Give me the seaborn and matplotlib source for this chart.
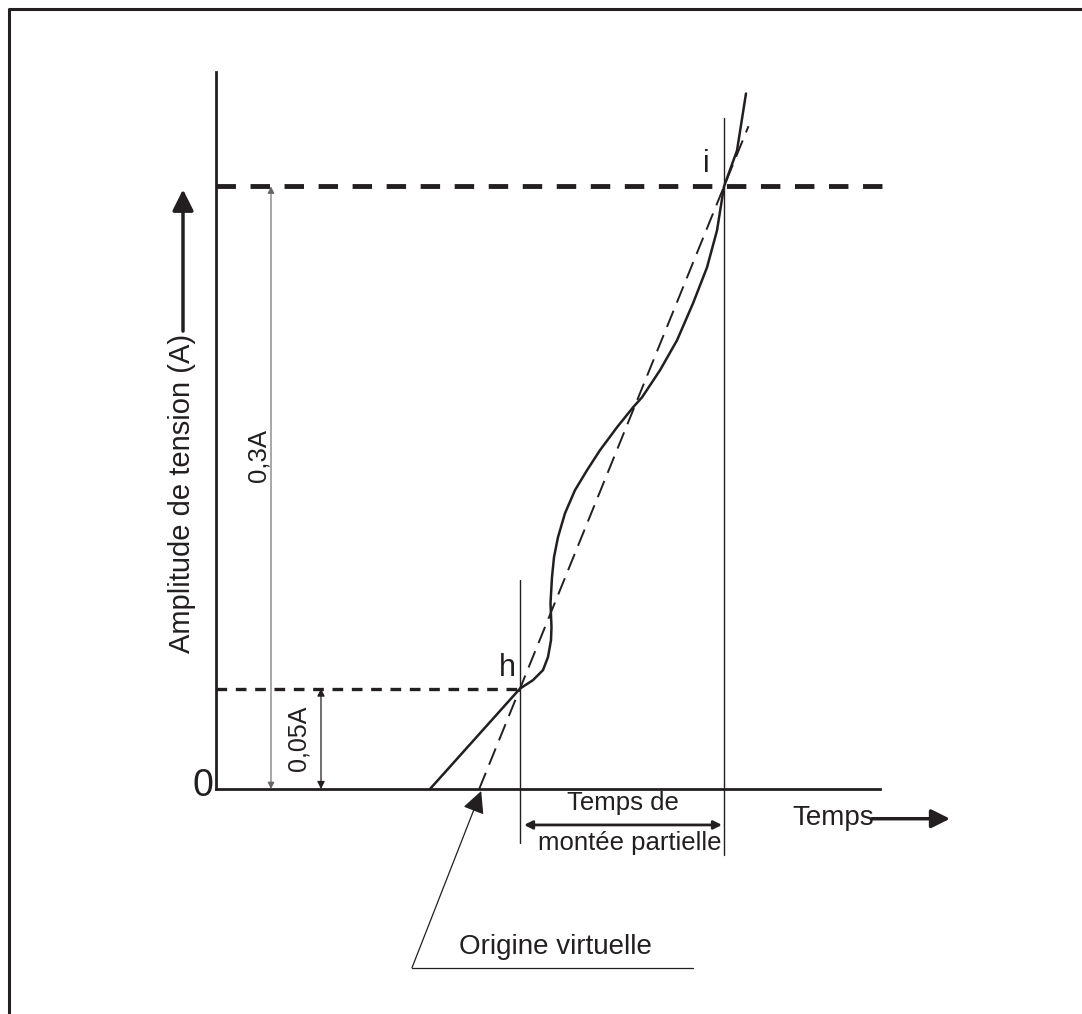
import matplotlib
matplotlib.use('Agg')
import matplotlib.pyplot as plt
from matplotlib.lines import Line2D
import seaborn as sns
import numpy as np

# courbe de montée (temps en unités arbitraires, amplitude en fraction de A)
temps = [2.14, 3.04, 3.17, 3.27, 3.32, 3.35, 3.355, 3.345, 3.36, 3.38, 3.42,
         3.49, 3.59, 3.71, 3.84, 4.01, 4.17, 4.26, 4.44, 4.61, 4.77, 4.91,
         5.01, 5.08, 5.21, 5.30]
amplitude = [0.0, 0.05, 0.0542, 0.0592, 0.0657, 0.0741, 0.0806, 0.0925, 0.1055,
             0.1154, 0.1254, 0.1373, 0.1488, 0.1587, 0.1687, 0.1801, 0.1900,
             0.1950, 0.2085, 0.2234, 0.2418, 0.2597, 0.2781, 0.300, 0.3179,
             0.3463]

# points de référence h et i
niveaux = [0.05, 0.3]
t_h, t_i = 3.04, 5.08
niveau_labels = ['0,05A', '0,3A']

# droite passant par h et i (origine virtuelle)
pente = (niveaux[1] - niveaux[0]) / (t_i - t_h)
t_origine = t_h - niveaux[0] / pente
tangente_t = [t_origine, t_h, t_i, t_h + (0.33 - niveaux[0]) / pente]
tangente_a = [0.0, niveaux[0], niveaux[1], 0.33]

couleur = '#231f20'
sns.set_style('white')
plt.rcParams['font.family'] = ['Liberation Sans Narrow', 'Liberation Sans', 'DejaVu Sans']

fig = plt.figure(figsize=(10.82, 10.14), dpi=100)
ax = fig.add_axes([216 / 1082, 225 / 1014, 664 / 1082, 717 / 1014])
ax.set_xlim(0, 6.64)
ax.set_ylim(0, 0.357)
ax.set_xticks([])
ax.set_yticks([])
for s in ['top', 'right']:
    ax.spines[s].set_visible(False)
for s in ['left', 'bottom']:
    ax.spines[s].set_color(couleur)
    ax.spines[s].set_linewidth(2.0)

# lignes de niveau
ax.plot([0, 6.74], [niveaux[1]] * 2, color=couleur, lw=3.5,
        linestyle=(0, (4, 3)), clip_on=False, solid_capstyle='butt')
ax.plot([0, t_h], [niveaux[0]] * 2, color=couleur, lw=2.4,
        linestyle=(0, (3.2, 2.6)), clip_on=False)

# courbe et tangente
sns.lineplot(x=temps, y=amplitude, ax=ax, color=couleur, lw=1.8,
             sort=False, estimator=None)
ax.lines[-1].set_solid_joinstyle('round')
ax.lines[-1].set_clip_on(False)
ax.plot(tangente_t, tangente_a, color=couleur, lw=1.4, linestyle=(0, (9, 4.5)),
        clip_on=False)

# verticales en h et i
ax.plot([t_h, t_h], [-0.027, 0.104], color=couleur, lw=1.0, clip_on=False)
ax.plot([t_i, t_i], [-0.033, 0.334], color=couleur, lw=1.0, clip_on=False)

# cotes 0,3A et 0,05A
ax.annotate('', xy=(0.55, niveaux[1]), xytext=(0.55, 0.0),
            arrowprops=dict(arrowstyle='<|-|>', color='#666666', lw=0.8,
                            mutation_scale=10, shrinkA=0, shrinkB=0))
ax.annotate('', xy=(1.05, niveaux[0]), xytext=(1.05, 0.0),
            arrowprops=dict(arrowstyle='<|-|>', color=couleur, lw=0.9,
                            mutation_scale=11, shrinkA=0, shrinkB=0))
ax.text(0.42, 0.166, niveau_labels[1], rotation=90, ha='center', va='center',
        fontsize=18.5, color=couleur)
ax.text(0.82, 0.025, niveau_labels[0], rotation=90, ha='center', va='center',
        fontsize=18, color=couleur)

# temps de montée partielle
ax.annotate('', xy=(t_i - 0.02, -0.0179), xytext=(t_h + 0.04, -0.0179),
            arrowprops=dict(arrowstyle='<|-|>', color=couleur, lw=2.0,
                            mutation_scale=12, shrinkA=0, shrinkB=0),
            annotation_clip=False)
ax.text(4.07, -0.0072, 'Temps de', ha='center', va='center', fontsize=18.5,
        color=couleur)
ax.text(4.14, -0.027, 'montée partielle', ha='center', va='center',
        fontsize=18.5, color=couleur)

# étiquettes h, i, 0
ax.text(2.91, 0.060, 'h', ha='center', va='center', fontsize=22, color=couleur)
ax.text(4.90, 0.311, 'i', ha='center', va='center', fontsize=22, color=couleur)
ax.text(-0.13, 0.0015, '0', ha='center', va='center', fontsize=27, color=couleur)

# axe des temps
ax.text(6.17, -0.0144, 'Temps', ha='center', va='center', fontsize=20,
        color=couleur)
ax.annotate('', xy=(7.34, -0.0148), xytext=(6.56, -0.0148),
            arrowprops=dict(arrowstyle='-|>', color=couleur, lw=2.5,
                            mutation_scale=28, shrinkA=0, shrinkB=0),
            annotation_clip=False)

# axe des amplitudes
ax.text(-0.34, 0.147, 'Amplitude de tension (A)', rotation=90, ha='center',
        va='center', fontsize=21, color=couleur)
ax.annotate('', xy=(-0.33, 0.2985), xytext=(-0.33, 0.228),
            arrowprops=dict(arrowstyle='-|>', color=couleur, lw=2.5,
                            mutation_scale=32, shrinkA=0, shrinkB=0),
            annotation_clip=False)

# origine virtuelle
ax.text(3.39, -0.0785, 'Origine virtuelle', ha='center', va='center',
        fontsize=20, color=couleur)
ax.plot([1.96, 4.77], [-0.089, -0.089], color=couleur, lw=0.9, clip_on=False)
ax.annotate('', xy=(t_origine + 0.02, -0.001), xytext=(1.96, -0.089),
            arrowprops=dict(arrowstyle='-|>', color=couleur, lw=0.9,
                            mutation_scale=34, shrinkA=0, shrinkB=0),
            annotation_clip=False)

# cadre (gauche et haut)
fig.add_artist(Line2D([9 / 1082, 9 / 1082, 1.0], [0.0, 1 - 9 / 1014, 1 - 9 / 1014],
                      transform=fig.transFigure, color=couleur, lw=2.2))

plt.savefig('out.png', dpi=100)
